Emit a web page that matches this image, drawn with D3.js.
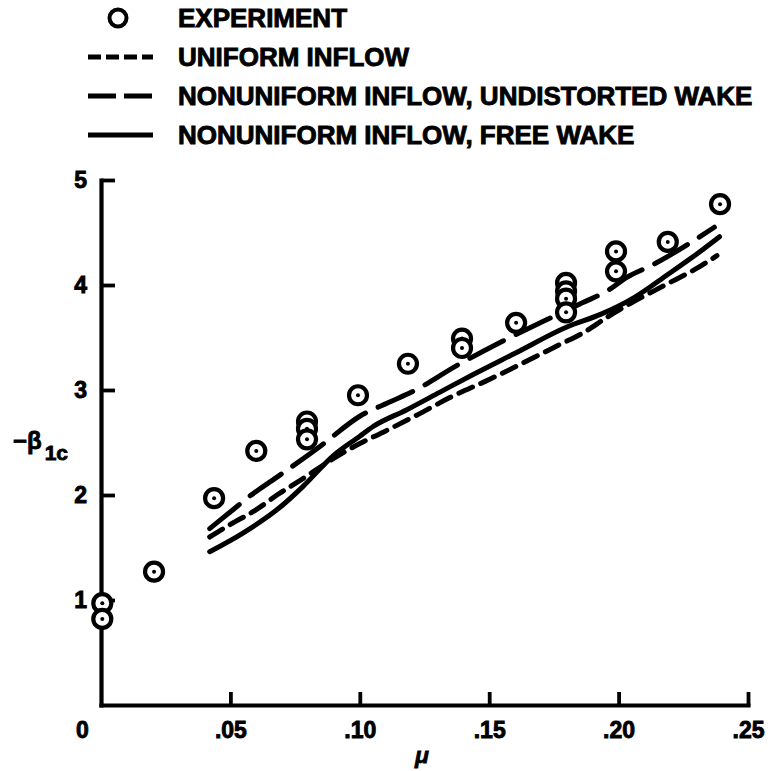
<!DOCTYPE html>
<html>
<head>
<meta charset="utf-8">
<script src="https://cdn.jsdelivr.net/npm/d3@7"></script>
<style>
  html, body { margin: 0; padding: 0; background: #fff; }
  svg { display: block; }
  text { font-family: "Liberation Sans", Arial, sans-serif; font-weight: bold; fill: #000; }
</style>
</head>
<body>
<svg id="chart" width="772" height="771"></svg>
<script>
// ---------- data ----------
const expMu   = [0.0005, 0.0005, 0.0205, 0.0437, 0.060, 0.0796, 0.0796, 0.0796, 0.0993, 0.1186, 0.1395, 0.1395, 0.1604,
                 0.1797, 0.1797, 0.1797, 0.1797, 0.199, 0.199, 0.219, 0.2392];
const expBeta = [0.97, 0.82, 1.27, 1.97, 2.42, 2.70, 2.63, 2.53, 2.95, 3.25, 3.49, 3.40, 3.64,
                 4.02, 3.94, 3.87, 3.74, 4.32, 4.13, 4.41, 4.77];

const uniformMu   = [0.042, 0.050, 0.060, 0.068, 0.077, 0.092, 0.100, 0.110, 0.122, 0.135, 0.150, 0.169, 0.177, 0.186, 0.196, 0.205, 0.218, 0.231, 0.238];
const uniformBeta = [1.60, 1.72, 1.86, 2.00, 2.14, 2.38, 2.49, 2.61, 2.76, 2.93, 3.10, 3.33, 3.43, 3.54, 3.70, 3.83, 4.00, 4.17, 4.28];

const undistortedMu   = [0.042, 0.051, 0.057, 0.068, 0.085, 0.100, 0.112, 0.120, 0.138, 0.154, 0.174, 0.186, 0.196, 0.203, 0.213, 0.237];
const undistortedBeta = [1.68, 1.86, 1.98, 2.17, 2.47, 2.75, 2.89, 2.98, 3.24, 3.45, 3.69, 3.83, 3.95, 4.07, 4.19, 4.55];

const freeWakeMu   = [0.042, 0.055, 0.070, 0.078, 0.090, 0.100, 0.105, 0.118, 0.131, 0.144, 0.160, 0.180, 0.193, 0.206, 0.219, 0.231, 0.239];
const freeWakeBeta = [1.46, 1.64, 1.90, 2.08, 2.38, 2.56, 2.65, 2.81, 2.98, 3.15, 3.35, 3.60, 3.72, 3.88, 4.10, 4.31, 4.46];

const xTicks = [0, 0.05, 0.10, 0.15, 0.20, 0.25];
const xTickLabels = ["0", ".05", ".10", ".15", ".20", ".25"];
const yTicks = [1, 2, 3, 4, 5];
const yTickLabels = ["1", "2", "3", "4", "5"];

const legendLabels = ["EXPERIMENT", "UNIFORM INFLOW", "NONUNIFORM INFLOW, UNDISTORTED WAKE", "NONUNIFORM INFLOW, FREE WAKE"];

// ---------- styles ----------
const SHORT_DASH = "15,9";
const LONG_DASH = "38,14";
const LINE_W = 5;

const svg = d3.select("#chart");

const x = d3.scaleLinear().domain([0, 0.25]).range([101, 748]);
const y = d3.scaleLinear().domain([0, 5]).range([705, 180]);

// ---------- axes ----------
const xAxis = d3.axisBottom(x)
  .tickValues(xTicks)
  .tickFormat((d, i) => xTickLabels[i])
  .tickSize(-13).tickSizeOuter(0).tickPadding(17);
const yAxis = d3.axisLeft(y)
  .tickValues(yTicks)
  .tickFormat((d, i) => yTickLabels[i])
  .tickSize(-14).tickSizeOuter(0).tickPadding(14);

const gx = svg.append("g").attr("transform", "translate(0,705)").call(xAxis);
const gy = svg.append("g").attr("transform", "translate(101,0)").call(yAxis);

[gx, gy].forEach(g => {
  g.select(".domain").attr("stroke", "#000").attr("stroke-width", 4.2).attr("stroke-linecap", "square");
  g.selectAll(".tick line").attr("stroke", "#000").attr("stroke-width", 3.8);
  g.selectAll(".tick text")
    .attr("font-family", "'Liberation Sans', Arial, sans-serif")
    .attr("font-weight", "bold")
    .attr("font-size", 23)
    .attr("stroke", "#000").attr("stroke-width", 0.9)
    .attr("fill", "#000");
});
// origin label sits left of the corner, no visible tick there
gx.selectAll(".tick").filter(d => d === 0).select("line").remove();
gx.selectAll(".tick").filter(d => d === 0).select("text").attr("x", -19);

// axis titles
const yTitle = svg.append("text")
  .attr("x", 13).attr("y", 449)
  .attr("font-size", 24).attr("stroke", "#000").attr("stroke-width", 0.8);
yTitle.append("tspan").text("\u2212\u03b2");
yTitle.append("tspan").attr("font-size", 21).attr("dy", 11).attr("dx", 3).text("1c");

svg.append("text")
  .attr("x", 422).attr("y", 763)
  .attr("text-anchor", "middle")
  .attr("font-size", 23).attr("font-style", "italic")
  .attr("stroke", "#000").attr("stroke-width", 0.8)
  .text("\u03bc");

// ---------- lines ----------
const line = d3.line()
  .x(d => x(d[0])).y(d => y(d[1]))
  .curve(d3.curveMonotoneX);

const series = [
  { mu: uniformMu, beta: uniformBeta, dash: SHORT_DASH },
  { mu: undistortedMu, beta: undistortedBeta, dash: LONG_DASH },
  { mu: freeWakeMu, beta: freeWakeBeta, dash: null }
];
series.forEach(s => {
  const pts = s.mu.map((m, i) => [m, s.beta[i]]);
  svg.append("path")
    .datum(pts)
    .attr("d", line)
    .attr("fill", "none")
    .attr("stroke", "#000")
    .attr("stroke-width", LINE_W)
    .attr("stroke-linecap", "round")
    .attr("stroke-dasharray", s.dash);
});

// ---------- experiment points ----------
const pts = expMu.map((m, i) => ({ mu: m, beta: expBeta[i] }));
const pg = svg.append("g").selectAll("g").data(pts).join("g")
  .attr("transform", d => `translate(${x(d.mu)},${y(d.beta)})`);
pg.append("circle").attr("r", 9).attr("fill", "#fff").attr("stroke", "#000").attr("stroke-width", 4.2);
pg.append("circle").attr("r", 2).attr("fill", "#000");

// ---------- legend ----------
const leg = svg.append("g");
const rowY = [18, 57, 96, 135];
const lx0 = 88, lx1 = 153, tx = 178;
leg.append("circle").attr("cx", 118).attr("cy", rowY[0]).attr("r", 8.5)
  .attr("fill", "#fff").attr("stroke", "#000").attr("stroke-width", 4);
const legDash = [null, "13,5", "28,8", null];
[1, 2, 3].forEach(i => {
  leg.append("line")
    .attr("x1", lx0).attr("x2", lx1)
    .attr("y1", rowY[i]).attr("y2", rowY[i])
    .attr("stroke", "#000").attr("stroke-width", LINE_W)
    .attr("stroke-dasharray", legDash[i]);
});
legendLabels.forEach((t, i) => {
  leg.append("text")
    .attr("x", tx).attr("y", rowY[i]).attr("dy", "0.36em")
    .attr("font-size", 26)
    .attr("stroke", "#000").attr("stroke-width", 0.9)
    .text(t);
});
</script>
</body>
</html>
